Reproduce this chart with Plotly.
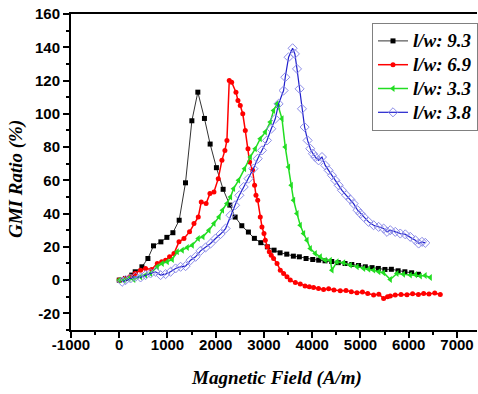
import plotly.graph_objects as go

# ---- data ----
x_93 = [0, 130, 260, 331, 470, 594, 710, 863, 987, 1112, 1242, 1373, 1505, 1629, 1766, 1884, 2014,
        2153, 2292, 2402, 2540, 2677, 2801, 2934, 3070, 3209, 3333, 3472, 3609, 3733, 3872, 4010,
        4134, 4265, 4404, 4540, 4680, 4820, 4960, 5100, 5240, 5370, 5507, 5640, 5780, 5920, 6060, 6200]
y_93 = [0, 1, 3, 5, 8, 13, 20.6, 23, 25.7, 28.5, 36, 58.5, 95.8, 113, 97.2, 81.8, 67.6,
        54.6, 45.1, 37.9, 32.7, 28.9, 25.1, 22.5, 20, 18, 16.4, 15.6, 14.4, 14, 13, 12.4,
        12, 11.6, 11.2, 10.5, 10, 9.4, 8.8, 8, 7.5, 7, 6.4, 6.5, 5.6, 5, 4.4, 3.5]

x_69 = [0, 110, 220, 330, 442, 545, 670, 788, 880, 960, 1043, 1134, 1238, 1341, 1457, 1549, 1638,
        1700, 1800, 1880, 1963, 2052, 2128, 2190, 2232, 2280, 2330, 2419, 2460, 2508, 2560, 2612,
        2668, 2702, 2764, 2805, 2834, 2870, 2923, 2958, 3000, 3027, 3070, 3110, 3150, 3199, 3270,
        3338, 3406, 3476, 3545, 3650, 3752, 3850, 3940, 4028, 4130, 4235, 4340, 4450, 4581, 4700,
        4810, 4927, 5040, 5150, 5272, 5380, 5480, 5560, 5618, 5720, 5840, 5964, 6080, 6200, 6309,
        6420, 6540, 6654]
y_69 = [0, 1, 2, 4, 6, 7, 6.4, 10, 11, 12, 14, 16, 23, 25, 29, 34, 38,
        47, 46, 52, 53, 61, 72, 78, 84, 120, 119, 113, 108, 105, 100, 90,
        79, 71, 66, 57, 51, 48, 38, 32, 28, 24, 20, 17, 15, 13, 10,
        6, 4, 2, 0, -1.5, -2.4, -3.5, -4, -4.4, -5, -5.6, -5.2, -6, -6.4, -6.2,
        -7, -7.6, -7.2, -8, -9, -8.5, -11, -10, -9.6, -9, -8.6, -8.8, -8.2, -8.6, -8,
        -8.4, -7.8, -8.6]

x_33 = [0, 100, 200, 300, 442, 545, 649, 788, 891, 995, 1099, 1202, 1306, 1410, 1513, 1638, 1735,
        1859, 1963, 2067, 2140, 2232, 2307, 2370, 2473, 2598, 2716, 2819, 2923, 3027, 3130, 3199,
        3270, 3302, 3373, 3441, 3510, 3566, 3614, 3684, 3752, 3821, 3891, 3960, 4063, 4167, 4270,
        4374, 4409, 4513, 4650, 4789, 4930, 5065, 5170, 5272, 5380, 5480, 5618, 5756, 5890, 6032,
        6140, 6240, 6340, 6447]
y_33 = [0, 0, 1, 0.4, 2, 3, 4, 8, 10, 11, 12.4, 17, 18, 19.6, 21, 25, 26,
        30, 34, 38, 42, 46, 50, 55, 60, 67, 74, 79, 85, 89, 95, 102,
        106, 104, 97, 80, 68, 57, 48, 40, 33, 28, 24, 19, 16, 14, 12,
        12, 6, 11, 10.4, 9, 8, 7, 6.5, 6, 5, 4.4, 0.4, 4, 3.5, 3,
        3.2, 2.4, 2.8, 1.6]

x_38 = [60, 131, 234, 338, 442, 545, 649, 753, 856, 960, 1063, 1167, 1271, 1375, 1478, 1582, 1685,
        1789, 1893, 1996, 2100, 2204, 2307, 2400, 2490, 2580, 2680, 2780, 2870, 2958, 3062, 3151,
        3234, 3302, 3406, 3441, 3510, 3593, 3640, 3684, 3738, 3787, 3842, 3904, 3960, 4015, 4063,
        4132, 4202, 4270, 4339, 4409, 4478, 4547, 4616, 4706, 4789, 4857, 4940, 5000, 5065, 5168,
        5272, 5376, 5480, 5549, 5618, 5721, 5825, 5929, 6032, 6136, 6205, 6274, 6343]
y_38 = [-1, 0, 1, 2, 1.6, 3, 4, 5, 3, 3.6, 5, 7, 8, 8.4, 12, 14, 17.6,
        19.6, 22, 25, 27.7, 31, 39, 45, 51, 56, 61, 67, 73, 78, 84, 91,
        97, 106, 114, 122, 134, 139.4, 136, 127, 115, 103, 92, 84, 79, 76, 74,
        72, 74, 69, 66, 63, 60, 57, 54, 51, 48.5, 46, 42, 40, 38, 35,
        33, 32, 31, 29, 30, 29, 28, 27.5, 26, 24, 22, 23, 22.4]

names = ["l/w: 9.3", "l/w: 6.9", "l/w: 3.3", "l/w: 3.8"]
x_ticks = [-1000, 0, 1000, 2000, 3000, 4000, 5000, 6000, 7000]
y_ticks = [-20, 0, 20, 40, 60, 80, 100, 120, 140, 160]
x_title = "Magnetic Field (A/m)"
y_title = "GMI Ratio (%)"


def legend_label(s):
    return "<span style='font-size:19px'><b><i>" + s + "</i></b></span>"


fig = go.Figure()
fig.add_trace(go.Scatter(x=x_93, y=y_93, mode="lines+markers", name=legend_label(names[0]),
                         line=dict(color="#333333", width=1),
                         marker=dict(symbol="square", size=5, color="black")))
fig.add_trace(go.Scatter(x=x_69, y=y_69, mode="lines+markers", name=legend_label(names[1]),
                         line=dict(color="#ff0000", width=1.5),
                         marker=dict(symbol="circle", size=5, color="#ff0000")))
fig.add_trace(go.Scatter(x=x_33, y=y_33, mode="lines+markers", name=legend_label(names[2]),
                         line=dict(color="#22dd22", width=1.5),
                         marker=dict(symbol="triangle-left", size=6, color="#22dd22")))
fig.add_trace(go.Scatter(x=x_38, y=y_38, mode="lines+markers", name=legend_label(names[3]),
                         line=dict(color="#2020cc", width=1.2),
                         marker=dict(symbol="diamond-open", size=7, color="#8c8ce8",
                                     line=dict(width=1, color="#8c8ce8"))))

W, H = 478, 394
L, R, T, B = 71, 1, 14, 64
pw, ph = W - L - R, H - T - B

tickfont = dict(family="Liberation Sans", size=15, color="black", weight="bold")
fig.update_layout(
    width=W, height=H,
    margin=dict(l=L, r=R, t=T, b=B, autoexpand=False),
    paper_bgcolor="white", plot_bgcolor="white",
    showlegend=True,
    legend=dict(x=(372 - L) / pw, y=(H - B - 23) / ph, xanchor="left", yanchor="top",
                bgcolor="white", bordercolor="#808080", borderwidth=1,
                font=dict(family="Liberation Serif", size=16, color="black"),
                itemwidth=30, tracegroupgap=0),
    xaxis=dict(range=[-1000, 7415], tickvals=x_ticks, ticktext=[str(v) for v in x_ticks],
               automargin=False,
               showgrid=False, zeroline=False, showline=True, linecolor="black", linewidth=2,
               mirror=True, ticks="outside", ticklen=6, tickwidth=2, tickcolor="black",
               minor=dict(dtick=500, tick0=0, ticks="outside", ticklen=3, tickwidth=2, tickcolor="black"),
               tickfont=tickfont, ticklabelstandoff=-6),
    yaxis=dict(range=[-30, 160], tickvals=y_ticks, ticktext=[str(v) for v in y_ticks],
               automargin=False,
               showgrid=False, zeroline=False, showline=True, linecolor="black", linewidth=2,
               mirror=False, ticks="outside", ticklen=6, tickwidth=2, tickcolor="black",
               minor=dict(dtick=10, tick0=0, ticks="outside", ticklen=3, tickwidth=2, tickcolor="black"),
               tickfont=tickfont),
    annotations=[
        dict(text="<b><i>" + x_title + "</i></b>", xref="paper", yref="paper",
             x=(276 - L) / pw, y=(H - B - 378) / ph, xanchor="center", yanchor="middle",
             showarrow=False, font=dict(family="Liberation Serif", size=19, color="black")),
        dict(text="<b><i>" + y_title + "</i></b>", xref="paper", yref="paper",
             x=(16 - L) / pw, y=(H - B - 179) / ph, xanchor="center", yanchor="middle",
             textangle=-90, showarrow=False,
             font=dict(family="Liberation Serif", size=19, color="black")),
    ],
)
fig.write_html("out.html", config={"displayModeBar": False},
               post_script="document.body.style.margin='0';document.body.style.padding='0';")
